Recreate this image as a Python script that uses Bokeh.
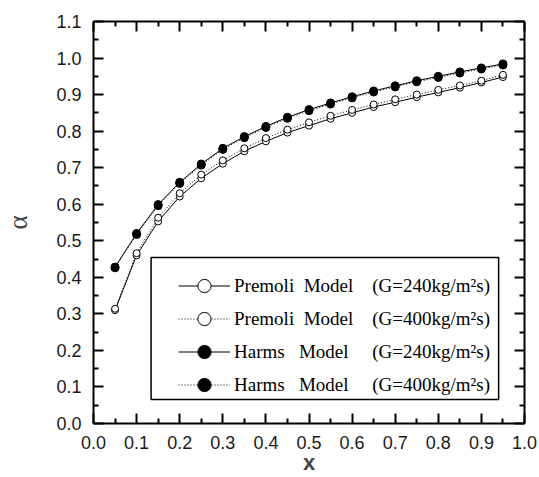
from bokeh.plotting import figure
from bokeh.models import (LinearAxis, FixedTicker, NumeralTickFormatter, Legend,
                          LegendItem, BoxAnnotation, Range1d)
from bokeh.embed import file_html
from bokeh.resources import INLINE

# ---- data ----
x_quality = [0.05, 0.10, 0.15, 0.20, 0.25, 0.30, 0.35, 0.40, 0.45, 0.50,
             0.55, 0.60, 0.65, 0.70, 0.75, 0.80, 0.85, 0.90, 0.95]
premoli_240 = [0.310, 0.460, 0.553, 0.621, 0.671, 0.711, 0.745, 0.772, 0.796, 0.815,
               0.834, 0.850, 0.866, 0.879, 0.893, 0.906, 0.919, 0.933, 0.948]
premoli_400 = [0.314, 0.466, 0.563, 0.630, 0.681, 0.720, 0.753, 0.781, 0.804, 0.824,
               0.842, 0.858, 0.873, 0.887, 0.900, 0.913, 0.925, 0.938, 0.954]
harms_240 = [0.428, 0.520, 0.599, 0.660, 0.710, 0.753, 0.785, 0.813, 0.838, 0.859,
             0.877, 0.894, 0.910, 0.924, 0.938, 0.950, 0.962, 0.973, 0.984]
harms_400 = [0.426, 0.517, 0.596, 0.657, 0.707, 0.750, 0.782, 0.810, 0.835, 0.856,
             0.874, 0.891, 0.907, 0.921, 0.935, 0.947, 0.959, 0.970, 0.981]

series_labels = [
    "Premoli\u00a0\u00a0Model\u00a0\u00a0\u00a0\u00a0(G=240kg/m\u00b2s)",
    "Premoli\u00a0\u00a0Model\u00a0\u00a0\u00a0\u00a0(G=400kg/m\u00b2s)",
    "Harms\u00a0\u00a0\u00a0Model\u00a0\u00a0\u00a0\u00a0\u00a0(G=240kg/m\u00b2s)",
    "Harms\u00a0\u00a0\u00a0Model\u00a0\u00a0\u00a0\u00a0\u00a0(G=400kg/m\u00b2s)",
]

x_ticks = [0.0, 0.1, 0.2, 0.3, 0.4, 0.5, 0.6, 0.7, 0.8, 0.9, 1.0]
x_minor = [0.05, 0.15, 0.25, 0.35, 0.45, 0.55, 0.65, 0.75, 0.85, 0.95]
y_ticks = [0.0, 0.1, 0.2, 0.3, 0.4, 0.5, 0.6, 0.7, 0.8, 0.9, 1.0, 1.1]
y_minor = [0.05, 0.15, 0.25, 0.35, 0.45, 0.55, 0.65, 0.75, 0.85, 0.95, 1.05]

# ---- figure ----
p = figure(width=539, height=477, output_backend="svg", toolbar_location=None,
           x_range=Range1d(0.0, 1.0), y_range=Range1d(0.0, 1.1),
           min_border_left=90, min_border_right=15, min_border_top=21,
           min_border_bottom=54, x_axis_location=None, y_axis_location=None)
p.outline_line_color = None
p.background_fill_color = "white"
p.border_fill_color = "white"
p.xgrid.visible = False
p.ygrid.visible = False


def style_axis(ax, ticks, minor):
    ax.ticker = FixedTicker(ticks=ticks, minor_ticks=minor)
    ax.axis_line_width = 2
    ax.axis_line_color = "black"
    ax.major_tick_in = 10
    ax.major_tick_out = 0
    ax.minor_tick_in = 5
    ax.minor_tick_out = 0
    ax.major_tick_line_width = 2
    ax.minor_tick_line_width = 2
    ax.major_tick_line_color = "black"
    ax.minor_tick_line_color = "black"
    ax.major_label_text_font = "Liberation Sans"
    ax.major_label_text_font_size = "18px"
    ax.major_label_text_color = "#1a1a1a"
    ax.formatter = NumeralTickFormatter(format="0.0")


def hide_labels(ax):
    ax.major_label_text_font_size = "0px"
    ax.major_label_text_color = None
    ax.major_label_standoff = 0


xb = LinearAxis(axis_label="x")
style_axis(xb, x_ticks, x_minor)
xb.major_label_standoff = 12
xb.axis_label_text_font = "Liberation Sans"
xb.axis_label_text_font_style = "bold"
xb.axis_label_text_font_size = "22px"
xb.axis_label_standoff = -2
p.add_layout(xb, "below")

yl = LinearAxis(axis_label="\u03b1")
style_axis(yl, y_ticks, y_minor)
yl.major_label_standoff = 12
yl.axis_label_text_font = "Liberation Serif"
yl.axis_label_text_font_style = "normal"
yl.axis_label_text_font_size = "27px"
yl.axis_label_standoff = 20
p.add_layout(yl, "left")

xt = LinearAxis()
style_axis(xt, x_ticks, x_minor)
hide_labels(xt)
p.add_layout(xt, "above")

yr = LinearAxis()
style_axis(yr, y_ticks, y_minor)
hide_labels(yr)
p.add_layout(yr, "right")

# ---- series ----
l1 = p.line(x_quality, premoli_240, line_color="black", line_width=1)
l2 = p.line(x_quality, premoli_400, line_color="black", line_width=1, line_dash="1 2")
l3 = p.line(x_quality, harms_240, line_color="black", line_width=1)
l4 = p.line(x_quality, harms_400, line_color="black", line_width=1, line_dash="1 2")

s1 = p.scatter(x_quality, premoli_240, marker="circle", size=7, fill_color="white",
               line_color="black", line_width=1)
s2 = p.scatter(x_quality, premoli_400, marker="circle", size=7, fill_color="white",
               line_color="black", line_width=1)
s3 = p.scatter(x_quality, harms_240, marker="circle", size=8, fill_color="black",
               line_color="black", line_width=1)
s4 = p.scatter(x_quality, harms_400, marker="circle", size=8, fill_color="black",
               line_color="black", line_width=1)

# ---- legend ----
legend = Legend(
    items=[LegendItem(label=series_labels[0], renderers=[l1, s1]),
           LegendItem(label=series_labels[1], renderers=[l2, s2]),
           LegendItem(label=series_labels[2], renderers=[l3, s3]),
           LegendItem(label=series_labels[3], renderers=[l4, s4])],
    location=(85, 22), glyph_width=52, glyph_height=33, label_height=33,
    spacing=0, padding=0, margin=0, label_standoff=4,
    border_line_color=None, background_fill_alpha=0,
    label_text_font="Liberation Serif", label_text_font_size="19px",
    label_text_color="black")
p.add_layout(legend)

legend_frame = BoxAnnotation(left=0.1336, right=0.940, bottom=0.0657, top=0.454,
                             fill_color=None, fill_alpha=0, line_color="black",
                             line_alpha=1, line_width=1.5)
p.add_layout(legend_frame)

open("out.html", "w").write(file_html(p, INLINE))
